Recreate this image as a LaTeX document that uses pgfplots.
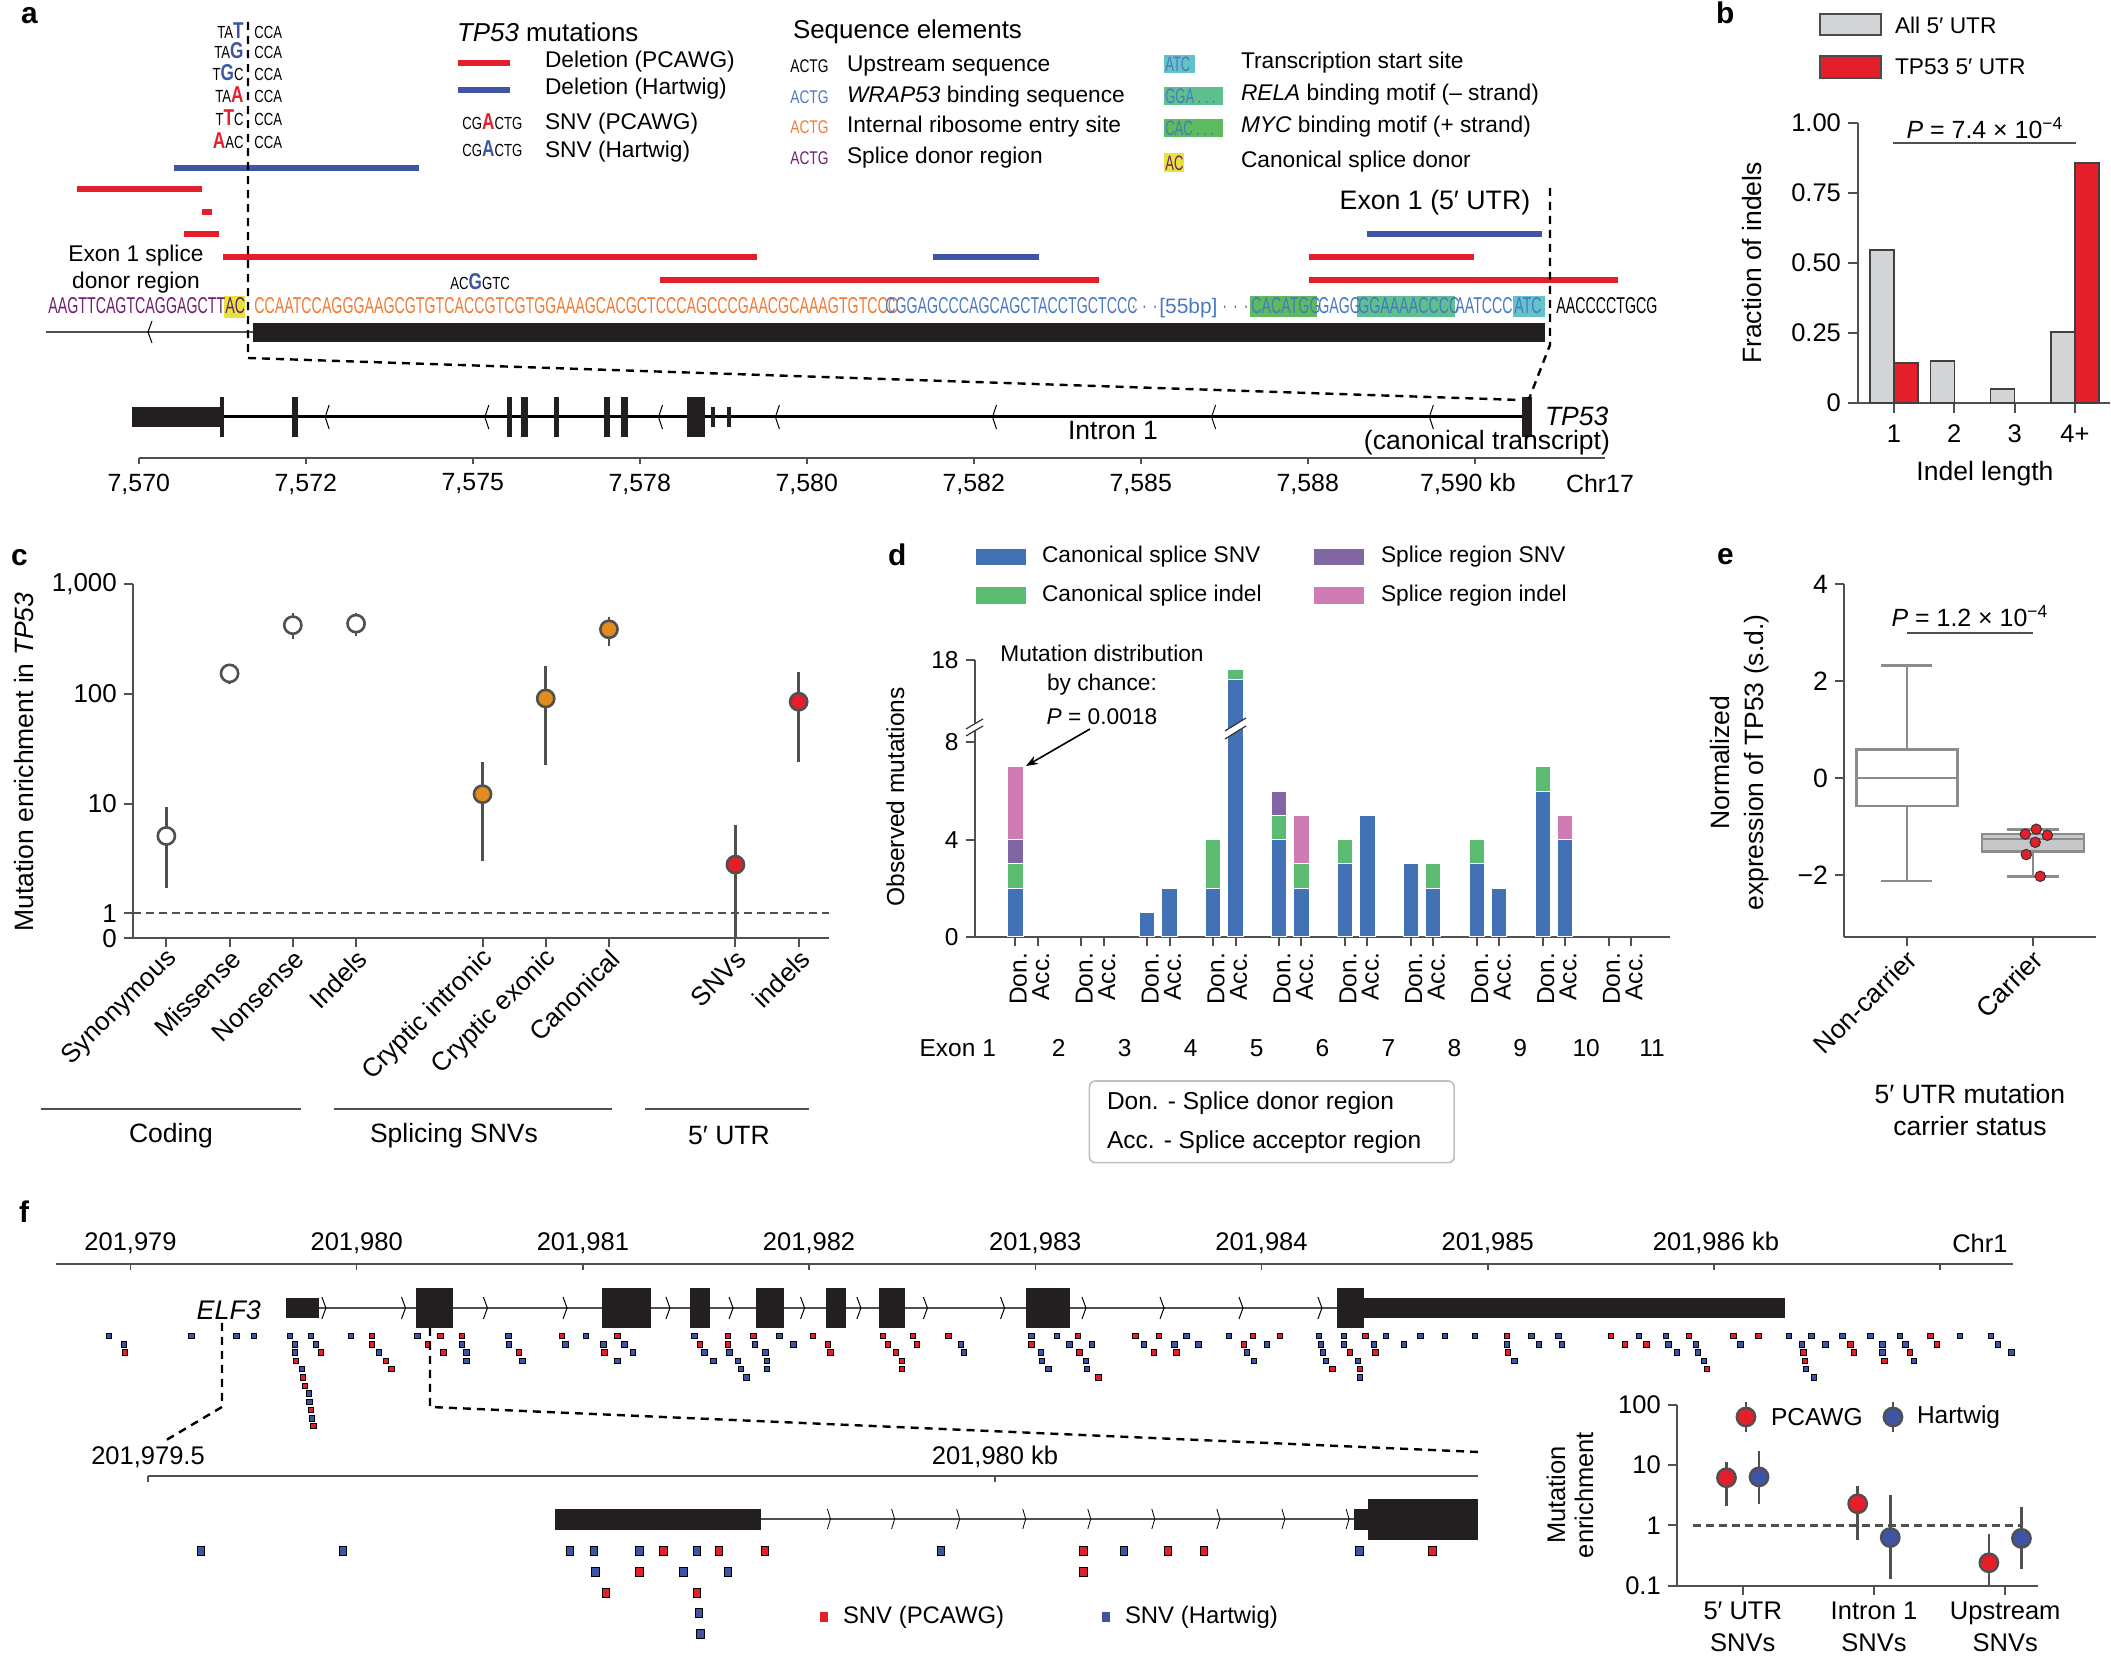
\documentclass[border=0pt]{standalone}
\usepackage{fontspec}
\setmainfont{Liberation Sans}
\newfontfamily\seqf[FakeStretch=0.75]{Liberation Sans}
\newfontfamily\seqc[FakeStretch=0.62]{Liberation Sans}
\usepackage{pgfplots}
\pgfplotsset{compat=1.18}
\usepgfplotslibrary{statistics}
\usetikzlibrary{arrows.meta}

\newcommand\fs[1]{\fontsize{#1}{#1}\selectfont}
\definecolor{cred}{HTML}{E41E2B}
\definecolor{cblue}{HTML}{3D55A4}
\definecolor{dblue}{HTML}{4271B6}
\definecolor{dgreen}{HTML}{5BBB70}
\definecolor{dpurple}{HTML}{8066A3}
\definecolor{dpink}{HTML}{D07CB4}
\definecolor{corange}{HTML}{E08C1F}
\definecolor{axgray}{HTML}{505050}
\definecolor{sPurple}{HTML}{6E1F6E}
\definecolor{sOrange}{HTML}{F07A32}
\definecolor{sBlue}{HTML}{4A78C2}
\definecolor{hYellow}{HTML}{E6E43C}
\definecolor{hGreen}{HTML}{5DBB5F}
\definecolor{hTealG}{HTML}{5DC08E}
\definecolor{hTeal}{HTML}{63C3C9}
\definecolor{bgray}{HTML}{D4D5D7}
\definecolor{boxgray}{HTML}{8C8C8C}
\definecolor{boxfill}{HTML}{C6C7C9}
\definecolor{exblack}{HTML}{231F20}

\newcommand\mB[1]{{\fs{11.5}\bfseries\color{cblue}#1}}
\newcommand\mR[1]{{\fs{11.5}\bfseries\color{cred}#1}}

\tikzset{F/.style={x=0.5bp, y=-0.5bp}}
\pgfplotsset{
  pos/.style 2 args={at={(#1*0.5bp,-#2*0.5bp)}, anchor=south west},
  panel/.style={scale only axis, clip=false, axis lines*=left,
    axis line style={draw=axgray, line width=1bp},
    tick style={draw=axgray, line width=1bp},
    tick align=outside, major tick length=4.5bp,
    ticklabel style={text=black},
    /pgf/number format/assume math mode=true},
  track/.style={scale only axis, clip=false, hide axis, y dir=reverse},
  ebar/.style={axgray, line width=1.3bp, forget plot},
}

\begin{document}
\begin{tikzpicture}
\useasboundingbox (0,0) rectangle (1055.5bp,-830.5bp);

% ---------------- panel a ----------------
\begin{scope}[F]
\node[anchor=base west, font=\fs{15}\bfseries] at (14,23) {a};
\foreach \b/\l/\r in {38/{TA\mB{T}}/CCA, 58/{TA\mB{G}}/CCA, 81/{T\mB{G}C}/CCA,
  103/{TA\mR{A}}/CCA, 126/{T\mR{T}C}/CCA, 149/{\mR{A}AC}/CCA}{
  \node[anchor=base east, inner sep=0] at (244,\b) {\seqf\fs{8.8}\l};
  \node[anchor=base west, inner sep=0] at (254,\b) {\seqf\fs{8.8}\r};
}
\node[anchor=west, font=\fs{13}] at (450,32) {\textit{TP53} mutations};
\draw[cred, line width=3bp] (458,63) -- (510,63);
\draw[cblue, line width=3bp] (458,90) -- (510,90);
\node[anchor=base west, inner sep=0] at (462,130) {\seqf\fs{8.8}CG\mR{A}CTG};
\node[anchor=base west, inner sep=0] at (462,157) {\seqf\fs{8.8}CG\mB{A}CTG};
\begin{scope}[every node/.style={anchor=west, font=\fs{11.4}}]
\node at (538,62) {Deletion (PCAWG)};
\node at (538,89) {Deletion (Hartwig)};
\node at (538,124) {SNV (PCAWG)};
\node at (538,152) {SNV (Hartwig)};
\end{scope}
\node[anchor=west, font=\fs{13}] at (786,32) {Sequence elements};
\begin{scope}[every node/.style={anchor=west, inner sep=0}]
\node at (790,66) {\seqf\fs{9.2}ACTG};
\node at (790,97) {\seqf\fs{9.2}\color{sBlue}ACTG};
\node at (790,127) {\seqf\fs{9.2}\color{sOrange}ACTG};
\node at (790,158) {\seqf\fs{9.2}\color{sPurple}ACTG};
\end{scope}
\begin{scope}[every node/.style={anchor=west, font=\fs{11.4}}]
\node at (840,66) {Upstream sequence};
\node at (840,97) {\textit{WRAP53} binding sequence};
\node at (840,127) {Internal ribosome entry site};
\node at (840,158) {Splice donor region};
\end{scope}
\fill[hTeal] (1164,55) rectangle (1195,73);
\fill[hTealG] (1164,87) rectangle (1223,105);
\fill[hGreen] (1164,119) rectangle (1223,137);
\fill[hYellow] (1164,153) rectangle (1184,172);
\begin{scope}[every node/.style={anchor=west, inner sep=0}]
\node at (1165,64.5) {\seqc\fs{10.5}\color{sBlue}ATC};
\node at (1165,96.5) {\seqc\fs{10.5}\color{sBlue}GGA\,.\,.\,.};
\node at (1165,128.5) {\seqc\fs{10.5}\color{sBlue}CAC\,.\,.\,.};
\node at (1165,163) {\seqc\fs{10.5}\color{sPurple}AC};
\end{scope}
\begin{scope}[every node/.style={anchor=west, font=\fs{11.4}}]
\node at (1234,63) {Transcription start site};
\node at (1234,95) {\textit{RELA} binding motif (– strand)};
\node at (1234,127) {\textit{MYC} binding motif (+ strand)};
\node at (1234,162) {Canonical splice donor};
\end{scope}
\end{scope}

% zoomed exon 1 track (x = nucleotide index, y = picture rows)
\begin{axis}[track, pos={47}{360}, width=850bp, height=105bp,
  xmin=0, xmax=170, ymin=150, ymax=360]
\draw[axgray, line width=1.1bp] (axis cs:-0.1,332) -- (axis cs:20.6,332);
\draw[line width=0.5bp] ([xshift=2bp,yshift=5.5bp]axis cs:10.1,332) -- (axis cs:10.1,332) -- ([xshift=2bp,yshift=-5.5bp]axis cs:10.1,332);
\fill[exblack] (axis cs:20.6,323) rectangle (axis cs:149.76,342);
\addplot[cblue, line width=3bp] coordinates {(12.65,168) (37.2,168)};
\addplot[cred, line width=3bp] coordinates {(3.0,189) (15.5,189)};
\addplot[cred, line width=3bp] coordinates {(15.5,212) (16.5,212)};
\addplot[cred, line width=3bp] coordinates {(13.7,234) (17.2,234)};
\addplot[cred, line width=3bp] coordinates {(17.6,257) (71.0,257)};
\addplot[cblue, line width=3bp] coordinates {(88.6,257) (99.2,257)};
\addplot[cred, line width=3bp] coordinates {(61.3,280) (105.2,280)};
\addplot[cred, line width=3bp] coordinates {(126.2,257) (142.7,257)};
\addplot[cblue, line width=3bp] coordinates {(132.0,234) (149.5,234)};
\addplot[cred, line width=3bp] coordinates {(126.2,280) (157.1,280)};
\end{axis}

\begin{scope}[F]
\fill[hYellow] (224,296) rectangle (245,318);
\fill[hGreen] (1250,296) rectangle (1317,317);
\fill[hTealG] (1357,296) rectangle (1455,317);
\fill[hTeal] (1513,296) rectangle (1545,317);
\begin{scope}[every node/.style={anchor=base west, inner sep=0}]
\node at (48,314) {\seqc\fs{11.5}\color{sPurple}AAGTTCAGTCAGGAGCTT};
\node at (225,314) {\seqc\fs{11.5}\color{sPurple}AC};
\node at (254,314) {\seqc\fs{11.5}\color{sOrange}CCAATCCAGGGAAGCGTGTCACCGTCGTGGAAAGCACGCTCCCAGCCCGAACGCAAAGTGTCCC};
\node at (885,314) {\seqc\fs{11.5}\color{sBlue}CGGAGCCCAGCAGCTACCTGCTCCC};
\node at (1131,314) {\seqc\fs{11.5}\color{sBlue}·\hspace{3bp}·\hspace{3bp}·};
\node at (1159,314) {\fs{10.5}\color{sBlue}[55bp]};
\node at (1222,314) {\seqc\fs{11.5}\color{sBlue}·\hspace{3bp}·\hspace{3bp}·};
\node at (1251,314) {\seqc\fs{11.5}\color{sBlue}CACATGG};
\node at (1318,314) {\seqc\fs{11.5}\color{sBlue}GAGG};
\node at (1358,314) {\seqc\fs{11.5}\color{sBlue}GGAAAACCCC};
\node at (1455,314) {\seqc\fs{11.5}\color{sBlue}AATCCC};
\node at (1514,314) {\seqc\fs{11.5}\color{sBlue}ATC};
\node at (1556,314) {\seqc\fs{11.5}AACCCCTGCG};
\node at (450,290) {\seqf\fs{8.8}AC\mB{G}GTC};
\end{scope}
\node[align=center, font=\fontsize{11.4}{13.5}\selectfont] at (136,269.5) {Exon 1 splice\\donor region};
\node[font=\fs{13.4}] at (1435,203) {Exon 1 (5′ UTR)};
\end{scope}

% genome track of TP53
\begin{axis}[track, pos={138.8}{470}, width=734.8bp, height=50bp,
  xmin=7570, xmax=7592, ymin=370, ymax=470]
\draw[axgray, line width=1.1bp] (axis cs:7570,457.7) -- (axis cs:7591.95,457.7);
\pgfplotsinvokeforeach{7570,7572.5,7575,7577.5,7580,7582.5,7585,7587.5,7590}{
  \draw[axgray, line width=0.8bp] (axis cs:#1,457.7) -- (axis cs:#1,464);}
\draw[black, line width=1.5bp] (axis cs:7569.9,417) -- (axis cs:7590.86,417);
\fill[exblack] (axis cs:7569.9,407) rectangle (axis cs:7571.25,427);
\fill[exblack] (axis cs:7571.22,397) rectangle (axis cs:7571.28,437);
\fill[exblack] (axis cs:7572.30,397) rectangle (axis cs:7572.38,437);
\fill[exblack] (axis cs:7575.51,397) rectangle (axis cs:7575.58,437);
\fill[exblack] (axis cs:7575.72,397) rectangle (axis cs:7575.82,437);
\fill[exblack] (axis cs:7576.21,397) rectangle (axis cs:7576.29,437);
\fill[exblack] (axis cs:7576.96,397) rectangle (axis cs:7577.06,437);
\fill[exblack] (axis cs:7577.22,397) rectangle (axis cs:7577.33,437);
\fill[exblack] (axis cs:7578.20,397) rectangle (axis cs:7578.48,437);
\fill[exblack] (axis cs:7590.70,397) rectangle (axis cs:7590.86,437);
\fill[exblack] (axis cs:7578.57,407) rectangle (axis cs:7578.62,427);
\fill[exblack] (axis cs:7578.81,407) rectangle (axis cs:7578.86,427);
\pgfplotsinvokeforeach{7572.79,7575.18,7577.78,7579.53,7582.78,7586.06,7589.32}{
  \draw[line width=0.5bp] ([xshift=2bp,yshift=6bp]axis cs:#1,417) -- (axis cs:#1,417) -- ([xshift=2bp,yshift=-6bp]axis cs:#1,417);}
\end{axis}

\begin{scope}[F]
\begin{scope}[every node/.style={font=\fs{12.5}}]
\node at (138.8,484) {7,570};
\node at (305.8,484) {7,572};
\node at (472.8,484) {7,575};
\node at (639.8,484) {7,578};
\node at (806.8,484) {7,580};
\node at (973.8,484) {7,582};
\node at (1140.8,484) {7,585};
\node at (1307.8,484) {7,588};
\node at (1468,484) {7,590 kb};
\node at (1600,484) {Chr17};
\end{scope}
\node[font=\fs{13.3}] at (1113,431) {Intron 1};
\node[anchor=west, font=\fs{13.3}\itshape] at (1538,416) {TP53};
\node[font=\fs{13.3}] at (1487,443) {(canonical transcript)};
\draw[line width=1.2bp, dash pattern=on 4bp off 3bp] (248,22) -- (248,358) -- (1520,400);
\draw[line width=1.2bp, dash pattern=on 4bp off 3bp] (1550,188) -- (1550,345) -- (1529,399);

% ---------------- panel b ----------------
\node[anchor=base west, font=\fs{15}\bfseries] at (1709,23) {b};
\filldraw[fill=bgray, draw=black!70, line width=0.7bp] (1820,14) rectangle (1881,35);
\filldraw[fill=cred, draw=black!70, line width=0.7bp] (1820,56) rectangle (1881,78);
\node[anchor=west, font=\fs{11.4}] at (1888,25) {All 5′ UTR};
\node[anchor=west, font=\fs{11.4}] at (1888,67) {TP53 5′ UTR};
\end{scope}
\begin{axis}[panel, pos={1858}{403}, width=126bp, height=140bp,
  xmin=0.403, xmax=4.58, ymin=0, ymax=1, ybar=0pt, bar width=12bp,
  xtick={1,2,3,4}, xticklabels={1,2,3,4+},
  ytick={0,0.25,0.5,0.75,1}, yticklabels={0,0.25,0.50,0.75,1.00},
  ticklabel style={font=\fs{12.8}}, xticklabel style={yshift=-2.5bp}, major tick length=5bp]
\addplot[fill=bgray, draw=black!75, line width=0.7bp] coordinates {(1,0.547) (2,0.15) (3,0.05) (4,0.254)};
\addplot[fill=cred, draw=black!75, line width=0.7bp] coordinates {(1,0.143) (4,0.857)};
\end{axis}
\begin{scope}[F]
\node[font=\fs{12.5}] at (1985,128) {\textit{P} = 7.4 × 10\textsuperscript{−4}};
\draw[axgray, line width=1bp] (1893,143) -- (2076,143);
\node[rotate=90, font=\fs{13.3}] at (1752,263) {Fraction of indels};
\node[font=\fs{13.3}] at (1985,474) {Indel length};

% ---------------- panel c ----------------
\node[anchor=base west, font=\fs{15}\bfseries] at (4,566) {c};
\end{scope}
\begin{axis}[panel, pos={132.8}{938.2}, width=348.1bp, height=176.95bp,
  ymode=log, ymin=0.593, ymax=1000, xmin=-0.531, xmax=10.48,
  xtick={0,1,2,3,5,6,7,9,10},
  xticklabels={Synonymous,Missense,Nonsense,Indels,Cryptic intronic,Cryptic exonic,Canonical,SNVs,indels},
  ytick={0.593,1,10,100,1000}, yticklabels={0,1,10,100,{1,000}}, yminorticks=false,
  xticklabel style={rotate=45, anchor=east, font=\fs{13}, xshift=3bp, yshift=-5bp}, yticklabel style={font=\fs{13}}]
\draw[axgray, line width=1.1bp, dash pattern=on 4bp off 2.5bp] (axis cs:-0.531,1) -- (axis cs:10.48,1);
\addplot[ebar] coordinates {(0,1.69) (0,9.25)};
\addplot[ebar] coordinates {(1,124) (1,187)};
\addplot[ebar] coordinates {(2,319) (2,548)};
\addplot[ebar] coordinates {(3,336) (3,548)};
\addplot[ebar] coordinates {(5,3.03) (5,24.2)};
\addplot[ebar] coordinates {(6,22.6) (6,179)};
\addplot[ebar] coordinates {(7,271) (7,503)};
\addplot[ebar] coordinates {(9,0.593) (9,6.45)};
\addplot[ebar] coordinates {(10,24.2) (10,158)};
\addplot[only marks, mark=*, mark size=4.3bp, mark options={fill=white, draw=axgray, line width=1.3bp}]
  coordinates {(0,5.07) (1,154) (2,424) (3,438)};
\addplot[only marks, mark=*, mark size=4.3bp, mark options={fill=corange, draw=axgray, line width=1.3bp}]
  coordinates {(5,12.2) (6,91) (7,389)};
\addplot[only marks, mark=*, mark size=4.3bp, mark options={fill=cred, draw=axgray, line width=1.3bp}]
  coordinates {(9,2.78) (10,85)};
\end{axis}
\begin{scope}[F]
\node[rotate=90, font=\fs{13.3}] at (24.4,762) {Mutation enrichment in \textit{TP53}};
\draw[axgray, line width=1.1bp] (40.7,1108.8) -- (300.8,1108.8);
\draw[axgray, line width=1.1bp] (334.4,1108.8) -- (612.5,1108.8);
\draw[axgray, line width=1.1bp] (645,1108.8) -- (808.7,1108.8);
\node[font=\fs{13.3}] at (171,1136) {Coding};
\node[font=\fs{13.3}] at (454,1136) {Splicing SNVs};
\node[font=\fs{13.3}] at (729,1136) {5′ UTR};

% ---------------- panel d ----------------
\node[anchor=base west, font=\fs{15}\bfseries] at (881,566) {d};
\fill[dblue] (975.6,549) rectangle (1025.6,565);
\fill[dgreen] (975.6,587) rectangle (1025.6,604);
\fill[dpurple] (1314,549) rectangle (1364,565);
\fill[dpink] (1314,587) rectangle (1364,604);
\begin{scope}[every node/.style={anchor=west, font=\fs{11.4}}]
\node at (1035,557) {Canonical splice SNV};
\node at (1035,596) {Canonical splice indel};
\node at (1374,557) {Splice region SNV};
\node at (1374,596) {Splice region indel};
\end{scope}
\end{scope}
\begin{axis}[panel, pos={974.6}{936.9}, width=347.7bp, height=138.55bp,
  xmin=0.381, xmax=10.93, ymin=0, ymax=18,
  y coord trafo/.code={\pgfmathparse{#1>8.9 ? 11.40-(18-#1)*0.4 : #1}},
  ytick={0,4,8,18}, yticklabels={0,4,8,18},
  xtick={1,1.34,2,2.34,3,3.34,4,4.34,5,5.34,6,6.34,7,7.34,8,8.34,9,9.34,10,10.34},
  xticklabels={Don.,Acc.,Don.,Acc.,Don.,Acc.,Don.,Acc.,Don.,Acc.,Don.,Acc.,Don.,Acc.,Don.,Acc.,Don.,Acc.,Don.,Acc.},
  xticklabel style={rotate=90, anchor=east, font=\fs{12.3}, yshift=-1.5bp}, yticklabel style={font=\fs{12.3}}]
\addplot[ybar, bar shift=0pt, bar width=7.65bp, fill=dpink, draw=white, line width=0.5bp]
  coordinates {(1,7) (5.34,5) (9.34,5)};
\addplot[ybar, bar shift=0pt, bar width=7.65bp, fill=dpurple, draw=white, line width=0.5bp]
  coordinates {(1,4) (5,6)};
\addplot[ybar, bar shift=0pt, bar width=7.65bp, fill=dgreen, draw=white, line width=0.5bp]
  coordinates {(1,3) (4,4) (4.34,17) (5,5) (5.34,3) (6,4) (7.34,3) (8,4) (9,7)};
\addplot[ybar, bar shift=0pt, bar width=7.65bp, fill=dblue, draw=white, line width=0.5bp]
  coordinates {(1,2) (3,1) (3.34,2) (4,2) (4.34,16) (5,4) (5.34,2) (6,3) (6.34,5) (7,3)
  (7.34,2) (8,3) (8.34,2) (9,6) (9.34,4)};
\end{axis}
\begin{scope}[F]
\fill[white] (1226,730) -- (1245,719) -- (1245,727) -- (1226,738) -- cycle;
\draw[black!80, line width=0.6bp] (1225,731) -- (1246,718);
\draw[black!80, line width=0.6bp] (1225,739) -- (1246,726);
\fill[white] (967,728) -- (982,719) -- (982,726) -- (967,735) -- cycle;
\draw[black!80, line width=0.6bp] (966,729) -- (983,719);
\draw[black!80, line width=0.6bp] (966,736) -- (983,726);
\node[rotate=90, font=\fs{12.3}] at (895.5,797) {Observed mutations};
\node[align=center, font=\fontsize{11.4}{14.5}\selectfont] at (1102,670) {Mutation distribution\\by chance:};
\node[font=\fs{11.4}] at (1102,717) {\textit{P} = 0.0018};
\draw[-{Stealth[length=6bp,width=4.5bp]}, line width=0.8bp] (1090,729) -- (1026,766);
\node[font=\fs{12.3}] at (957.8,1048) {Exon 1};
\foreach \k [count=\i from 0] in {2,...,11}{
  \node[font=\fs{12.3}] at (1058.8+65.93*\i,1048) {\k};}
\draw[black!25, rounded corners=3bp, line width=0.8bp] (1089.4,1081) rectangle (1454.2,1162.7);
\node[anchor=west, font=\fs{12.3}] at (1100,1103.5) {Don. - Splice donor region};
\node[anchor=west, font=\fs{12.3}] at (1100,1142.2) {Acc. - Splice acceptor region};

% ---------------- panel e ----------------
\node[anchor=base west, font=\fs{15}\bfseries] at (1710,565) {e};
\end{scope}
\begin{axis}[panel, pos={1844}{936.9}, width=126bp, height=176.3bp,
  xmin=0.5, xmax=2.5, ymin=-3.28, ymax=4, boxplot/draw direction=y,
  xtick={1,2}, xticklabels={Non-carrier,Carrier},
  ytick={-2,0,2,4}, yticklabels={−2,0,2,4},
  xticklabel style={rotate=45, anchor=east, font=\fs{13.3}, xshift=2bp, yshift=-5bp}, yticklabel style={font=\fs{13.3}}]
\addplot[boxplot prepared={median=0, upper quartile=0.59, lower quartile=-0.575,
  upper whisker=2.32, lower whisker=-2.13, draw position=1, box extend=0.8, whisker extend=0.405},
  draw=boxgray, fill=white, line width=1.3bp] coordinates {};
\addplot[boxplot prepared={median=-1.26, upper quartile=-1.158, lower quartile=-1.52,
  upper whisker=-1.057, lower whisker=-2.03, draw position=2, box extend=0.81, whisker extend=0.42},
  draw=boxgray, fill=boxfill, line width=1.3bp] coordinates {};
\addplot[only marks, mark=*, mark size=2.6bp, mark options={fill=cred, draw=black!80, line width=0.5bp}]
  coordinates {(1.939,-1.158) (2.026,-1.057) (2.114,-1.183) (2.018,-1.327) (1.947,-1.581) (2.058,-2.029)};
\end{axis}
\begin{scope}[F]
\node[font=\fs{12.5}] at (1970,616) {\textit{P} = 1.2 × 10\textsuperscript{−4}};
\draw[axgray, line width=1bp] (1907,633.3) -- (2033,633.3);
\node[rotate=90, align=center, font=\fontsize{13.3}{17}\selectfont] at (1740,762.6) {Normalized\\expression of TP53 (s.d.)};
\node[align=center, font=\fontsize{13.3}{16.5}\selectfont] at (1970,1110) {5′ UTR mutation\\carrier status};

% ---------------- panel f ----------------
\node[anchor=base west, font=\fs{15}\bfseries] at (12,1223) {f};
\end{scope}
\begin{axis}[track, pos={56}{1440}, width=978.5bp, height=105bp,
  xmin=-0.329, xmax=8.322, ymin=1230, ymax=1440]
\draw[axgray, line width=1.1bp] (axis cs:-0.329,1264) -- (axis cs:8.322,1264);
\pgfplotsinvokeforeach{0,...,8}{\draw[axgray, line width=0.8bp] (axis cs:#1,1264) -- (axis cs:#1,1270);}
\draw[axgray, line width=0.7bp] (axis cs:0.833,1308) -- (axis cs:5.334,1308);
\fill[exblack] (axis cs:0.687,1298) rectangle (axis cs:0.833,1318);
\fill[exblack] (axis cs:5.334,1288) rectangle (axis cs:5.453,1328);
\fill[exblack] (axis cs:5.453,1298) rectangle (axis cs:7.314,1318);
\fill[exblack] (axis cs:1.262,1288) rectangle (axis cs:1.424,1328);
\fill[exblack] (axis cs:2.084,1288) rectangle (axis cs:2.301,1328);
\fill[exblack] (axis cs:2.473,1288) rectangle (axis cs:2.561,1328);
\fill[exblack] (axis cs:2.765,1288) rectangle (axis cs:2.889,1328);
\fill[exblack] (axis cs:3.074,1288) rectangle (axis cs:3.163,1328);
\fill[exblack] (axis cs:3.308,1288) rectangle (axis cs:3.423,1328);
\fill[exblack] (axis cs:3.957,1288) rectangle (axis cs:4.153,1328);
\pgfplotsinvokeforeach{0.864,1.216,1.578,1.930,2.385,2.664,2.980,3.229,3.523,3.864,4.224,4.569,4.918,5.267}{
  \draw[line width=0.5bp] ([xshift=-2bp,yshift=5.5bp]axis cs:#1,1308) -- (axis cs:#1,1308) -- ([xshift=-2bp,yshift=-5.5bp]axis cs:#1,1308);}
\addplot[only marks, mark=square*, mark size=1.35bp, mark options={fill=cred, draw=none}] coordinates {
 (1.067,1336) (1.371,1336) (1.464,1336) (1.907,1336) (2.152,1336) (2.642,1336) (2.754,1336) (3.017,1336)
 (3.327,1336) (3.458,1336) (3.616,1336)
 (1.067,1344.3) (1.315,1344.3) (2.518,1344.3) (2.642,1344.3) (3.082,1344.3) (3.349,1344.3) (3.476,1344.3)
 (-0.025,1352.3) (0.843,1352.3) (1.383,1352.3) (1.718,1352.3) (2.096,1352.3) (3.095,1352.3) (3.383,1352.3)
 (0.732,1360.7) (1.129,1360.7) (3.411,1360.7)
 (1.153,1369) (3.411,1369) (0.763,1377.3) (0.772,1385.7) (0.797,1410) (0.809,1426)
 (4.189,1336) (4.442,1336) (4.546,1336) (4.962,1336) (5.081,1336) (5.460,1336) (6.084,1336) (6.544,1336)
 (6.889,1336) (7.086,1336) (7.196,1336) (7.957,1336)
 (3.982,1344.3) (4.922,1344.3) (6.607,1344.3) (6.701,1344.3) (7.603,1344.3) (7.985,1344.3)
 (4.195,1352.3) (4.524,1352.3) (4.624,1352.3) (5.391,1352.3) (5.504,1352.3) (6.090,1352.3) (7.396,1352.3)
 (7.619,1352.3) (7.866,1352.3)
 (7.402,1360.7) (7.753,1360.7) (5.313,1369) (5.435,1369) (6.970,1369) (4.279,1377.3)};
\addplot[only marks, mark=square*, mark size=1.35bp, mark options={fill=cblue, draw=none}] coordinates {
 (-0.096,1336) (0.270,1336) (0.468,1336) (0.546,1336) (0.704,1336) (0.797,1336) (0.974,1336) (1.268,1336)
 (1.671,1336) (2.013,1336) (2.493,1336) (2.869,1336)
 (-0.028,1344.3) (0.726,1344.3) (0.819,1344.3) (1.464,1344.3) (1.674,1344.3) (1.923,1344.3) (2.090,1344.3)
 (2.183,1344.3) (2.760,1344.3) (2.931,1344.3) (3.672,1344.3)
 (0.726,1352.3) (1.098,1352.3) (1.485,1352.3) (2.220,1352.3) (2.537,1352.3) (2.648,1352.3) (2.806,1352.3)
 (3.684,1352.3)
 (1.485,1360.7) (1.733,1360.7) (2.152,1360.7) (2.577,1360.7) (2.686,1360.7) (2.813,1360.7)
 (0.757,1369) (2.698,1369) (2.813,1369) (2.723,1377.3) (0.788,1393.3) (0.791,1401.7) (0.803,1418.3)
 (3.982,1336) (4.095,1336) (4.668,1336) (4.856,1336) (5.254,1336) (5.363,1336) (5.551,1336) (5.702,1336)
 (5.811,1336) (5.943,1336) (6.193,1336) (6.312,1336) (6.669,1336) (6.788,1336) (7.330,1336) (7.431,1336)
 (7.568,1336) (7.691,1336) (7.822,1336) (8.088,1336) (8.223,1336)
 (4.151,1344.3) (4.251,1344.3) (4.480,1344.3) (4.615,1344.3) (4.721,1344.3) (5.025,1344.3) (5.263,1344.3)
 (5.363,1344.3) (5.498,1344.3) (5.630,1344.3) (6.084,1344.3) (6.225,1344.3) (6.328,1344.3) (6.798,1344.3)
 (6.920,1344.3) (7.117,1344.3) (7.390,1344.3) (7.493,1344.3) (7.744,1344.3) (7.847,1344.3) (8.254,1344.3)
 (4.026,1352.3) (4.934,1352.3) (5.272,1352.3) (6.835,1352.3) (6.929,1352.3) (7.744,1352.3) (8.314,1352.3)
 (4.029,1360.7) (4.223,1360.7) (4.965,1360.7) (5.285,1360.7) (5.426,1360.7) (6.118,1360.7) (6.955,1360.7)
 (7.885,1360.7)
 (4.057,1369) (4.229,1369) (7.406,1369) (5.435,1377.3) (7.443,1377.3)};
\end{axis}
\begin{scope}[F]
\begin{scope}[every node/.style={font=\fs{12.8}}]
\node at (130.5,1243) {201,979};
\node at (356.7,1243) {201,980};
\node at (582.9,1243) {201,981};
\node at (809.1,1243) {201,982};
\node at (1035.3,1243) {201,983};
\node at (1261.5,1243) {201,984};
\node at (1487.7,1243) {201,985};
\node at (1716,1243) {201,986 kb};
\node at (1980,1243) {Chr1};
\end{scope}
\node[anchor=east, font=\fs{13.5}\itshape] at (268,1310) {ELF3};
\draw[line width=1.2bp, dash pattern=on 4bp off 3bp] (222,1323) -- (222,1407) -- (163,1442);
\draw[line width=1.2bp, dash pattern=on 4bp off 3bp] (430,1328) -- (430,1407) -- (1478,1452);
\end{scope}

\begin{axis}[track, pos={148.3}{1650}, width=664.85bp, height=100bp,
  xmin=0.5, xmax=1.285, ymin=1450, ymax=1650]
\draw[axgray, line width=1.1bp] (axis cs:0.5,1476) -- (axis cs:1.285,1476);
\draw[axgray, line width=0.8bp] (axis cs:0.5,1476) -- (axis cs:0.5,1482);
\draw[axgray, line width=0.8bp] (axis cs:1.0,1476) -- (axis cs:1.0,1482);
\fill[exblack] (axis cs:0.740,1509) rectangle (axis cs:0.8615,1530);
\draw[axgray, line width=0.7bp] (axis cs:0.8615,1519) -- (axis cs:1.2117,1519);
\fill[exblack] (axis cs:1.2117,1509) rectangle (axis cs:1.2202,1530);
\fill[exblack] (axis cs:1.2202,1499) rectangle (axis cs:1.285,1540);
\pgfplotsinvokeforeach{0.9027,0.9406,0.9790,1.0180,1.0564,1.0942,1.1326,1.1710,1.2089}{
  \draw[line width=0.4bp] ([xshift=-1.5bp,yshift=5bp]axis cs:#1,1519) -- (axis cs:#1,1519) -- ([xshift=-1.5bp,yshift=-5bp]axis cs:#1,1519);}
\addplot[only marks, mark=square*, mark size=2.3bp, mark options={fill=cred, draw=none, xscale=0.8}] coordinates {
 (0.804,1550.7) (0.837,1550.7) (0.864,1550.7) (1.052,1550.7) (1.102,1550.7) (1.123,1550.7) (1.258,1550.7)
 (0.790,1571.7) (1.052,1571.7) (0.770,1592.7) (0.824,1592.7)};
\addplot[only marks, mark=square*, mark size=2.3bp, mark options={fill=cblue, draw=none, xscale=0.8}] coordinates {
 (0.531,1550.7) (0.615,1550.7) (0.749,1550.7) (0.763,1550.7) (0.790,1550.7) (0.824,1550.7) (0.968,1550.7)
 (1.076,1550.7) (1.215,1550.7) (0.764,1571.7) (0.816,1571.7) (0.842,1571.7) (0.825,1613.3) (0.826,1634.3)};
\end{axis}
\begin{scope}[F]
\node[font=\fs{12.8}] at (148,1457) {201,979.5};
\node[font=\fs{12.8}] at (995,1457) {201,980 kb};
\fill[cred] (820,1612) rectangle (828,1622);
\fill[cblue] (1102,1612) rectangle (1110,1622);
\node[anchor=west, font=\fs{12}] at (836,1617) {SNV (PCAWG)};
\node[anchor=west, font=\fs{12}] at (1118,1617) {SNV (Hartwig)};
\end{scope}

% inset enrichment
\begin{axis}[panel, pos={1676.8}{1585.7}, width=180.6bp, height=90.35bp,
  ymode=log, ymin=0.1, ymax=100, xmin=0.497, xmax=3.25, yminorticks=false,
  xtick={1,2,3}, xticklabels={{5′ UTR\\SNVs},{Intron 1\\SNVs},{Upstream\\SNVs}},
  xticklabel style={align=center, font=\fontsize{12.8}{16}\selectfont},
  ytick={0.1,1,10,100}, yticklabels={0.1,1,10,100}, yticklabel style={font=\fs{12.8}}]
\draw[axgray, line width=1.1bp, dash pattern=on 4bp off 2.5bp] (axis cs:0.62,1) -- (axis cs:3.12,1);
\addplot[ebar] coordinates {(0.876,2.1) (0.876,11.1)};
\addplot[ebar] coordinates {(1.124,2.26) (1.124,17.4)};
\addplot[ebar] coordinates {(1.876,0.57) (1.876,4.5)};
\addplot[ebar] coordinates {(2.124,0.128) (2.124,3.15)};
\addplot[ebar] coordinates {(2.876,0.1) (2.876,0.71)};
\addplot[ebar] coordinates {(3.124,0.186) (3.124,2.02)};
\addplot[only marks, mark=*, mark size=4.6bp, mark options={fill=cred, draw=axgray, line width=1.2bp}]
  coordinates {(0.876,6.2) (1.876,2.29) (2.876,0.24)};
\addplot[only marks, mark=*, mark size=4.6bp, mark options={fill=cblue, draw=axgray, line width=1.2bp}]
  coordinates {(1.124,6.4) (2.124,0.63) (3.124,0.61)};
\end{axis}
\begin{scope}[F]
\draw[axgray, line width=1.1bp] (1746,1402) -- (1746,1432);
\filldraw[fill=cred, draw=axgray, line width=1.2bp] (1746,1417) circle[radius=4.6bp];
\draw[axgray, line width=1.1bp] (1893,1402) -- (1893,1432);
\filldraw[fill=cblue, draw=axgray, line width=1.2bp] (1893,1417) circle[radius=4.6bp];
\node[anchor=west, font=\fs{12.3}] at (1764,1417) {PCAWG};
\node[anchor=west, font=\fs{12.3}] at (1910,1417) {Hartwig};
\node[rotate=90, align=center, font=\fontsize{12.8}{14}\selectfont] at (1570,1495) {Mutation\\enrichment};
\end{scope}

\end{tikzpicture}
\end{document}
